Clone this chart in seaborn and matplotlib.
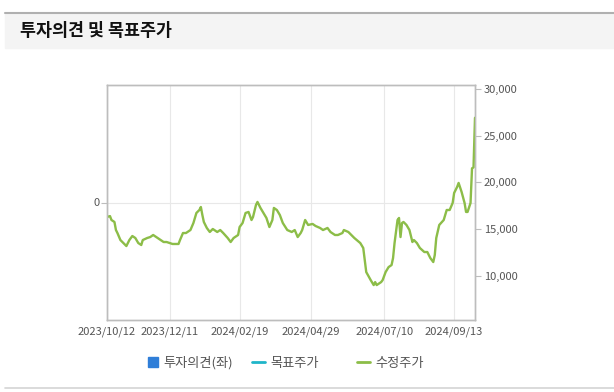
import numpy as np
import pandas as pd
import seaborn as sns
import matplotlib.pyplot as plt
from matplotlib.lines import Line2D
from matplotlib.patches import Rectangle

# trading-day index and adjusted close (수정주가)
day = [0, 2, 3, 5, 6, 7, 9, 11, 13, 15, 17, 19, 21, 23, 24, 27, 29, 31, 34, 36,
       38, 40, 42, 44, 48, 49, 51, 53, 54, 56, 58, 59, 60, 62, 63, 64, 65, 67, 69, 71,
       74, 76, 78, 81, 83, 85, 88, 89, 91, 93, 95, 97, 98, 100, 101, 103, 105, 107, 109, 111,
       112, 114, 116, 118, 121, 124, 126, 128, 130, 131, 133, 135, 138, 140, 143, 145, 148, 150, 153, 155,
       158, 159, 162, 164, 166, 170, 172, 173, 174, 177, 179, 180, 181, 184, 185, 187, 189, 191, 192, 193,
       195, 196, 197, 198, 199, 201, 203, 205, 206, 208, 210, 213, 215, 217, 219, 220, 221, 223, 226, 228,
       230, 232, 233, 235, 236, 238, 240, 241, 242, 244, 245, 246, 247]
price = [16300, 16400, 15980, 15770, 14910, 14590, 13840, 13520, 13200, 13840, 14270, 14060, 13520, 13310, 13840, 14060, 14160, 14380, 14060, 13840,
         13630, 13630, 13520, 13420, 13420, 13840, 14590, 14590, 14700, 14910, 15660, 16200, 16730, 17050, 17370, 16520, 15770, 15130, 14700, 15020,
         14700, 14910, 14590, 14060, 13630, 14060, 14380, 15230, 15660, 16730, 16840, 15980, 16300, 17590, 17910, 17270, 16730, 16200, 15230, 15980,
         17270, 17050, 16520, 15660, 14910, 14700, 14910, 14160, 14590, 14910, 15980, 15450, 15560, 15340, 15130, 14910, 15130, 14700, 14380, 14380,
         14590, 14910, 14700, 14380, 14060, 13520, 12990, 11700, 10420, 9560, 9030, 9350, 9030, 9350, 9560, 10420, 10950, 11170, 11920, 13520,
         15980, 16200, 14160, 15660, 15770, 15450, 14910, 13630, 13840, 13520, 12990, 12560, 12560, 11920, 11490, 12240, 14060, 15450, 15980, 17050,
         17050, 17800, 18870, 19510, 19940, 18980, 17800, 16840, 16840, 17800, 21500, 21600, 26900]

tick_days = [0, 42, 89, 137, 186, 233]
tick_dates = ['2023/10/12', '2023/12/11', '2024/02/19', '2024/04/29', '2024/07/10', '2024/09/13']
price_ticks = [10000, 15000, 20000, 25000, 30000]

legend_names = ['투자의견(좌)', '목표주가', '수정주가']
legend_colors = ['#2f7ed8', '#1fb5c9', '#8cbd48']

df = pd.DataFrame({'day': day, 'price': price})

sns.set_style('white')
plt.rcParams['font.family'] = ['Noto Sans CJK KR', 'DejaVu Sans']

fig = plt.figure(figsize=(6.14, 3.92), dpi=100)

# header band
fig.patches.append(Rectangle((5/614, 1-48/392), 1, 35/392, transform=fig.transFigure,
                             color='#f4f4f4', zorder=0))
fig.lines.append(Line2D([5/614, 1], [1-12.5/392]*2, transform=fig.transFigure, color='#b0b0b0', lw=1.5))
fig.lines.append(Line2D([5/614, 1], [1-388/392]*2, transform=fig.transFigure, color='#d4d4d4', lw=1.2))
fig.text(20/614, 1-31/392, '투자의견 및 목표주가', fontsize=12.5, fontweight='bold',
         color='#111111', va='center', ha='left')

ax = fig.add_axes([107/614, 1-320/392, 368/614, 235/392])
ax2 = ax.twinx()

sns.lineplot(data=df, x='day', y='price', ax=ax2, color=legend_colors[2], linewidth=1.7)

ax.set_xlim(0, 247)
ax.set_ylim(-1, 1)
ax.set_yticks([0])
ax.set_yticklabels(['0'])
ax.set_xticks(tick_days)
ax.set_xticklabels(tick_dates)
ax.grid(True, color='#e8e8e8', lw=0.8)
ax.set_xlabel('')
ax.set_ylabel('')

ax2.set_ylim(5300, 30400)
ax2.set_yticks(price_ticks)
ax2.set_yticklabels([f'{v:,}' for v in price_ticks])
ax2.grid(False)
ax2.set_xlabel('')
ax2.set_ylabel('')

for a in (ax, ax2):
    for s in a.spines.values():
        s.set_color('#bdbdbd')
        s.set_linewidth(1)
    a.tick_params(length=4, width=0.8, color='#bdbdbd', labelcolor='#555555', labelsize=8, pad=1.5)
ax.tick_params(axis='x', pad=1)
ax2.tick_params(axis='y', pad=2.5, right=True, left=False)

# legend items, placed separately like the original
handles = [Line2D([], [], marker='s', linestyle='', color=legend_colors[0], markersize=7),
           Line2D([], [], color=legend_colors[1], lw=2),
           Line2D([], [], color=legend_colors[2], lw=2)]
anchors = [148/614, 252/614, 357/614]
for h, name, xa in zip(handles, legend_names, anchors):
    leg = fig.legend([h], [name], loc='center left', bbox_to_anchor=(xa, 1-363/392),
                     frameon=False, fontsize=9.5, handlelength=1.0 if h.get_marker() != 's' else 0.8,
                     handletextpad=0.4, borderpad=0, borderaxespad=0)
    for t in leg.get_texts():
        t.set_color('#555555')

fig.savefig('out.png', dpi=100)
